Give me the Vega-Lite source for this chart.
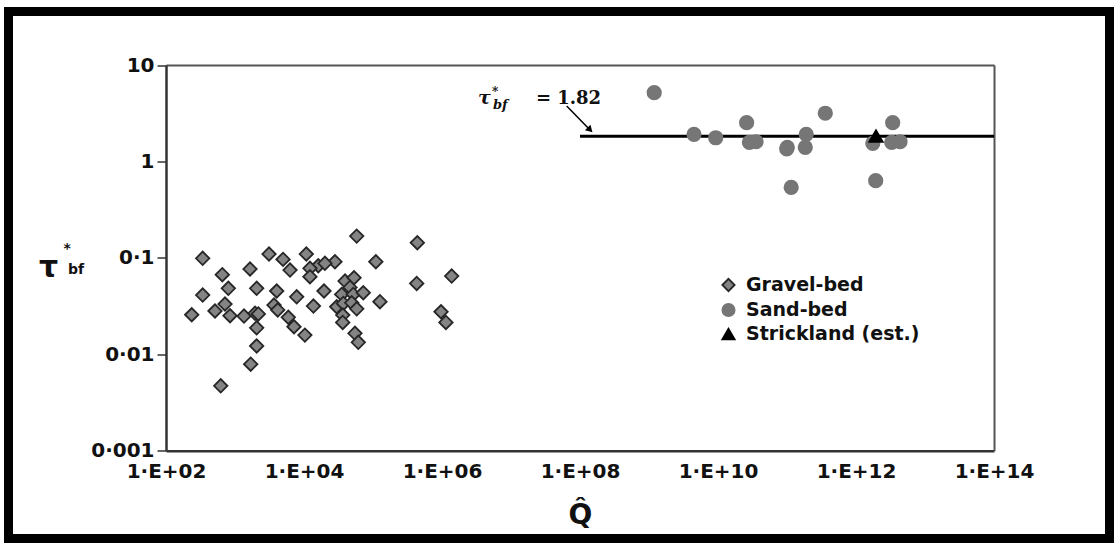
{
  "$schema": "https://vega.github.io/schema/vega-lite/v6.json",
  "width": 1101,
  "height": 527,
  "autosize": {"type": "none"},
  "padding": {"left": 8.5, "top": 11.5, "right": 5.5, "bottom": 4.5},
  "background": "white",
  "config": {
    "view": {"stroke": "#000000", "strokeWidth": 9, "fill": "white"},
    "axis": {
      "grid": false,
      "labelFont": "DejaVu Sans",
      "labelFontWeight": "bold",
      "labelFontSize": 20,
      "labelColor": "#111111",
      "titleFont": "DejaVu Sans",
      "titleFontWeight": "bold",
      "titleColor": "#111111",
      "labelFlush": false,
      "labelOverlap": false,
      "labelBound": false
    },
    "legend": {
      "labelFont": "DejaVu Sans",
      "labelFontWeight": "bold",
      "labelFontSize": 19,
      "labelColor": "#111111",
      "labelLimit": 400,
      "symbolSize": 150,
      "symbolStrokeWidth": 1.8,
      "rowPadding": 4,
      "labelOffset": 8,
      "padding": 0
    }
  },
  "datasets": {
    "points": [
      {"type": "Gravel-bed", "Q": 58000, "tau": 0.168},
      {"type": "Gravel-bed", "Q": 439000, "tau": 0.1435},
      {"type": "Gravel-bed", "Q": 340, "tau": 0.0988},
      {"type": "Gravel-bed", "Q": 3110, "tau": 0.1095},
      {"type": "Gravel-bed", "Q": 4970, "tau": 0.0964},
      {"type": "Gravel-bed", "Q": 10800, "tau": 0.1095},
      {"type": "Gravel-bed", "Q": 28100, "tau": 0.0912},
      {"type": "Gravel-bed", "Q": 110000, "tau": 0.0912},
      {"type": "Gravel-bed", "Q": 16100, "tau": 0.0828},
      {"type": "Gravel-bed", "Q": 20100, "tau": 0.0877},
      {"type": "Gravel-bed", "Q": 1650, "tau": 0.0766},
      {"type": "Gravel-bed", "Q": 6270, "tau": 0.0747},
      {"type": "Gravel-bed", "Q": 12200, "tau": 0.0779},
      {"type": "Gravel-bed", "Q": 12200, "tau": 0.0637},
      {"type": "Gravel-bed", "Q": 655, "tau": 0.0669},
      {"type": "Gravel-bed", "Q": 1380000, "tau": 0.0647},
      {"type": "Gravel-bed", "Q": 430000, "tau": 0.0543},
      {"type": "Gravel-bed", "Q": 39300, "tau": 0.0574},
      {"type": "Gravel-bed", "Q": 53100, "tau": 0.0622},
      {"type": "Gravel-bed", "Q": 800, "tau": 0.0483},
      {"type": "Gravel-bed", "Q": 2060, "tau": 0.0483},
      {"type": "Gravel-bed", "Q": 4020, "tau": 0.0453},
      {"type": "Gravel-bed", "Q": 19500, "tau": 0.0453},
      {"type": "Gravel-bed", "Q": 340, "tau": 0.0411},
      {"type": "Gravel-bed", "Q": 7830, "tau": 0.0394},
      {"type": "Gravel-bed", "Q": 46400, "tau": 0.0494},
      {"type": "Gravel-bed", "Q": 35200, "tau": 0.0418},
      {"type": "Gravel-bed", "Q": 51800, "tau": 0.0418},
      {"type": "Gravel-bed", "Q": 72300, "tau": 0.0435},
      {"type": "Gravel-bed", "Q": 126000, "tau": 0.0351},
      {"type": "Gravel-bed", "Q": 716, "tau": 0.0332},
      {"type": "Gravel-bed", "Q": 513, "tau": 0.0281},
      {"type": "Gravel-bed", "Q": 236, "tau": 0.0257},
      {"type": "Gravel-bed", "Q": 847, "tau": 0.0251},
      {"type": "Gravel-bed", "Q": 1350, "tau": 0.0249},
      {"type": "Gravel-bed", "Q": 1950, "tau": 0.0266},
      {"type": "Gravel-bed", "Q": 2180, "tau": 0.0262},
      {"type": "Gravel-bed", "Q": 3670, "tau": 0.0324},
      {"type": "Gravel-bed", "Q": 4160, "tau": 0.0288},
      {"type": "Gravel-bed", "Q": 5920, "tau": 0.0242},
      {"type": "Gravel-bed", "Q": 13700, "tau": 0.0316},
      {"type": "Gravel-bed", "Q": 29800, "tau": 0.0311},
      {"type": "Gravel-bed", "Q": 37200, "tau": 0.0337},
      {"type": "Gravel-bed", "Q": 49100, "tau": 0.0342},
      {"type": "Gravel-bed", "Q": 58100, "tau": 0.0296},
      {"type": "Gravel-bed", "Q": 36400, "tau": 0.0255},
      {"type": "Gravel-bed", "Q": 36400, "tau": 0.0214},
      {"type": "Gravel-bed", "Q": 2060, "tau": 0.0188},
      {"type": "Gravel-bed", "Q": 7160, "tau": 0.0193},
      {"type": "Gravel-bed", "Q": 10300, "tau": 0.0158},
      {"type": "Gravel-bed", "Q": 54800, "tau": 0.0165},
      {"type": "Gravel-bed", "Q": 61200, "tau": 0.0133},
      {"type": "Gravel-bed", "Q": 2060, "tau": 0.0122},
      {"type": "Gravel-bed", "Q": 1690, "tau": 0.0079},
      {"type": "Gravel-bed", "Q": 621, "tau": 0.00471},
      {"type": "Gravel-bed", "Q": 968000, "tau": 0.0276},
      {"type": "Gravel-bed", "Q": 1140000, "tau": 0.0214},
      {"type": "Sand-bed", "Q": 1190000000, "tau": 5.17},
      {"type": "Sand-bed", "Q": 4490000000, "tau": 1.91},
      {"type": "Sand-bed", "Q": 9270000000, "tau": 1.76},
      {"type": "Sand-bed", "Q": 26000000000, "tau": 2.52},
      {"type": "Sand-bed", "Q": 28500000000, "tau": 1.58},
      {"type": "Sand-bed", "Q": 35600000000, "tau": 1.6},
      {"type": "Sand-bed", "Q": 101000000000, "tau": 1.4},
      {"type": "Sand-bed", "Q": 99000000000, "tau": 1.35},
      {"type": "Sand-bed", "Q": 184000000000, "tau": 1.4},
      {"type": "Sand-bed", "Q": 190000000000, "tau": 1.91},
      {"type": "Sand-bed", "Q": 115000000000, "tau": 0.538},
      {"type": "Sand-bed", "Q": 359000000000, "tau": 3.16},
      {"type": "Sand-bed", "Q": 1750000000000, "tau": 1.54},
      {"type": "Sand-bed", "Q": 1930000000000, "tau": 0.631},
      {"type": "Sand-bed", "Q": 3400000000000, "tau": 2.52},
      {"type": "Sand-bed", "Q": 3290000000000, "tau": 1.58},
      {"type": "Sand-bed", "Q": 4350000000000, "tau": 1.6},
      {"type": "Strickland (est.)", "Q": 1950000000000, "tau": 1.83}
    ]
  },
  "layer": [
    {
      "data": {"values": [{"Q_start": 100000000, "Q_end": 100000000000000, "tau_bf": 1.82}]},
      "mark": {"type": "rule", "color": "#000000", "strokeWidth": 3},
      "encoding": {
        "x": {
          "field": "Q_start", "type": "quantitative",
          "scale": {"type": "log", "domain": [100, 100000000000000], "range": [157.5, 985.5], "nice": false},
          "axis": {
            "orient": "top", "offset": -53.5, "domain": true, "domainColor": "#555555", "domainWidth": 2,
            "ticks": false, "labels": false, "title": "*", "titleX": 58.2, "titleY": 187.8,
            "titleAlign": "center", "titleBaseline": "alphabetic", "titleAngle": 0, "titleFontSize": 14
          }
        },
        "x2": {"field": "Q_end"},
        "y": {
          "field": "tau_bf", "type": "quantitative",
          "scale": {"type": "log", "domain": [0.001, 10], "range": [439.2, 53.5], "nice": false},
          "axis": {
            "orient": "right", "offset": -115.5, "domain": true, "domainColor": "#555555", "domainWidth": 2,
            "ticks": false, "labels": false, "title": "bf", "titleX": -926.5, "titleY": 261.5,
            "titleAlign": "left", "titleBaseline": "alphabetic", "titleAngle": 0, "titleFontSize": 14
          }
        }
      }
    },
    {
      "data": {"name": "points"},
      "mark": {"type": "point", "filled": true, "size": 180, "strokeWidth": 1.8, "opacity": 1},
      "encoding": {
        "x": {
          "field": "Q", "type": "quantitative",
          "scale": {"type": "log", "domain": [100, 100000000000000], "range": [157.5, 985.5], "nice": false},
          "axis": {
            "orient": "bottom", "offset": -87.8, "domain": true, "domainColor": "#333333", "domainWidth": 2.5,
            "ticks": false, "tickSize": 0,
            "values": [100, 10000, 1000000, 100000000, 10000000000, 1000000000000, 100000000000000],
            "labelExpr": "'1·E+' + (round(log(datum.value)/LN10) < 10 ? '0' : '') + round(log(datum.value)/LN10)",
            "labelPadding": 11,
            "title": "Q̂", "titleX": 571.5, "titleY": 72.3, "titleFontSize": 28,
            "titleAlign": "center", "titleBaseline": "alphabetic", "titleAngle": 0
          }
        },
        "y": {
          "field": "tau", "type": "quantitative",
          "scale": {"type": "log", "domain": [0.001, 10], "range": [439.2, 53.5], "nice": false},
          "axis": {
            "orient": "left", "offset": -157.5, "domain": true, "domainColor": "#333333", "domainWidth": 2.5,
            "ticks": true, "tickSize": 9, "tickColor": "#333333", "tickWidth": 1.5,
            "values": [0.001, 0.01, 0.1, 1, 10],
            "labelExpr": "datum.value > 5 ? '10' : datum.value > 0.5 ? '1' : datum.value > 0.05 ? '0·1' : datum.value > 0.005 ? '0·01' : '0·001'",
            "labelPadding": 3,
            "title": "τ", "titleX": -118, "titleY": 264.5, "titleFontSize": 30,
            "titleAlign": "center", "titleBaseline": "alphabetic", "titleAngle": 0
          }
        },
        "shape": {
          "field": "type", "type": "nominal",
          "scale": {"domain": ["Gravel-bed", "Sand-bed", "Strickland (est.)"], "range": ["diamond", "circle", "triangle-up"]},
          "legend": {"title": null, "orient": "none", "legendX": 710.5, "legendY": 264}
        },
        "fill": {
          "field": "type", "type": "nominal",
          "scale": {"domain": ["Gravel-bed", "Sand-bed", "Strickland (est.)"], "range": ["#848484", "#767676", "#000000"]},
          "legend": {"title": null, "orient": "none", "legendX": 710.5, "legendY": 264}
        },
        "stroke": {
          "field": "type", "type": "nominal",
          "scale": {"domain": ["Gravel-bed", "Sand-bed", "Strickland (est.)"], "range": ["#262626", "#767676", "#000000"]},
          "legend": {"title": null, "orient": "none", "legendX": 710.5, "legendY": 264}
        }
      }
    },
    {
      "data": {"values": [{"Q": 64100000, "tau": 3.76}, {"Q": 140000000, "tau": 2.12}]},
      "mark": {"type": "line", "color": "#000000", "strokeWidth": 1.5},
      "encoding": {
        "x": {"field": "Q", "type": "quantitative", "axis": null},
        "y": {"field": "tau", "type": "quantitative", "axis": null}
      }
    },
    {
      "data": {"values": [{"Q": 140000000, "tau": 2.12}]},
      "mark": {"type": "point", "shape": "triangle-up", "angle": 135, "filled": true, "size": 60, "color": "#000000", "opacity": 1},
      "encoding": {
        "x": {"field": "Q", "type": "quantitative", "axis": null},
        "y": {"field": "tau", "type": "quantitative", "axis": null}
      }
    },
    {
      "data": {"values": [{"label": "τ", "Q": 3330000, "tau": 3.94}]},
      "mark": {"type": "text", "align": "left", "baseline": "alphabetic", "font": "DejaVu Serif", "fontStyle": "italic", "fontWeight": "bold", "fontSize": 19, "color": "#111111"},
      "encoding": {
        "x": {"field": "Q", "type": "quantitative", "axis": null},
        "y": {"field": "tau", "type": "quantitative", "axis": null},
        "text": {"field": "label"}
      }
    },
    {
      "data": {"values": [{"label": "*", "Q": 5310000, "tau": 4.77}]},
      "mark": {"type": "text", "align": "left", "baseline": "alphabetic", "font": "DejaVu Serif", "fontWeight": "bold", "fontSize": 12, "color": "#111111"},
      "encoding": {
        "x": {"field": "Q", "type": "quantitative", "axis": null},
        "y": {"field": "tau", "type": "quantitative", "axis": null},
        "text": {"field": "label"}
      }
    },
    {
      "data": {"values": [{"label": "bf", "Q": 5480000, "tau": 3.5}]},
      "mark": {"type": "text", "align": "left", "baseline": "alphabetic", "font": "DejaVu Serif", "fontStyle": "italic", "fontWeight": "bold", "fontSize": 13, "color": "#111111"},
      "encoding": {
        "x": {"field": "Q", "type": "quantitative", "axis": null},
        "y": {"field": "tau", "type": "quantitative", "axis": null},
        "text": {"field": "label"}
      }
    },
    {
      "data": {"values": [{"label": "= 1.82", "Q": 23000000, "tau": 3.94}]},
      "mark": {"type": "text", "align": "left", "baseline": "alphabetic", "font": "DejaVu Serif", "fontWeight": "bold", "fontSize": 18, "color": "#111111"},
      "encoding": {
        "x": {"field": "Q", "type": "quantitative", "axis": null},
        "y": {"field": "tau", "type": "quantitative", "axis": null},
        "text": {"field": "label"}
      }
    }
  ],
  "resolve": {"axis": {"x": "independent", "y": "independent"}}
}
